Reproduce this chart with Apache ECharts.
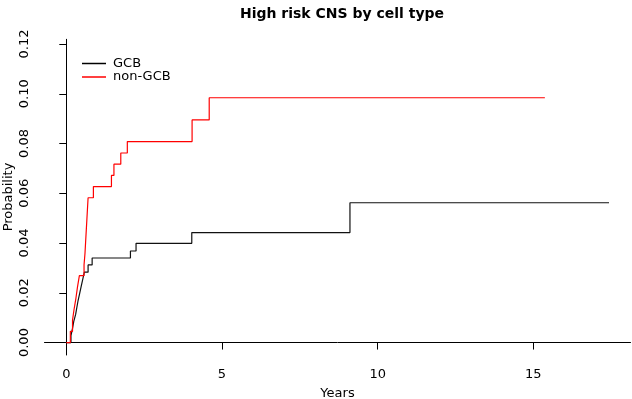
<!DOCTYPE html>
<html>
<head>
<meta charset="utf-8">
<script src="https://cdn.jsdelivr.net/npm/echarts@6/dist/echarts.min.js"></script>
<style>
html, body { margin: 0; padding: 0; background: #fff; }
#chart { width: 632px; height: 399px; }
</style>
</head>
<body>
<div id="chart"></div>
<script>
// step points: [years, cumulative probability]
const gcbTimes = [0, 0.15, 0.2, 0.24, 0.3, 0.34, 0.38, 0.43, 0.48, 0.53, 0.58, 0.7, 0.83, 2.06, 2.24, 4.03, 9.11, 17.43];
const gcbProb = [0, 0.0028, 0.0057, 0.0085, 0.0113, 0.0142, 0.017, 0.0198, 0.0227, 0.0255, 0.0283, 0.0312, 0.034, 0.0368, 0.0399, 0.0442, 0.0562, 0.0562];

const nonGcbTimes = [0, 0.13, 0.2, 0.25, 0.31, 0.36, 0.42, 0.57, 0.6, 0.62, 0.64, 0.66, 0.68, 0.7, 0.87, 1.45, 1.53, 1.75, 1.96, 4.04, 4.59, 15.37];
const nonGcbProb = [0, 0.0045, 0.009, 0.0134, 0.0179, 0.0224, 0.0269, 0.0313, 0.0358, 0.0403, 0.0448, 0.0493, 0.0538, 0.0582, 0.0627, 0.0672, 0.0717, 0.0762, 0.0808, 0.0895, 0.0984, 0.0984];

const xTicks = [0, 5, 10, 15];
const yTicks = [0, 0.02, 0.04, 0.06, 0.08, 0.1, 0.12];

const font = 'DejaVu Sans';

function pairs(xs, ys) {
	return xs.map((x, i) => [x, ys[i]]);
}

const chart = echarts.init(document.getElementById('chart'));

chart.setOption({
	animation: false,
	title: {
		text: 'High risk CNS by cell type',
		left: 337,
		textAlign: 'center',
		top: 2,
		textStyle: { fontFamily: font, fontSize: 14, fontWeight: 'bold', color: '#000' }
	},
	// y axis title, drawn as rotated text
	graphic: [{
		type: 'text',
		x: 9,
		y: 197,
		rotation: Math.PI / 2,
		style: {
			text: 'Probability',
			font: '13px "DejaVu Sans"',
			fill: '#000',
			align: 'center',
			verticalAlign: 'middle'
		}
	}],
	legend: {
		orient: 'vertical',
		left: 77,
		top: 52,
		itemWidth: 24,
		itemHeight: 1.5,
		itemGap: 0.5,
		icon: 'rect',
		textStyle: { fontFamily: font, fontSize: 13, color: '#000', padding: [0, 0, 0, 2] },
		data: ['GCB', 'non-GCB']
	},
	grid: {
		left: 44.5,
		right: 1.5,
		top: 39.3,
		bottom: 44,
		outerBoundsMode: 'none'
	},
	xAxis: {
		type: 'value',
		min: -0.7,
		max: 18.12,
		name: 'Years',
		nameLocation: 'middle',
		nameGap: 32,
		nameTextStyle: { fontFamily: font, fontSize: 13, color: '#000' },
		axisLine: { show: true, lineStyle: { color: '#000', width: 1 } },
		axisTick: { show: true, length: 7, lineStyle: { color: '#000' }, customValues: xTicks },
		axisLabel: {
			fontFamily: font, fontSize: 13, color: '#000', margin: 13,
			customValues: xTicks
		},
		splitLine: { show: false }
	},
	yAxis: {
		type: 'value',
		min: -0.005,
		max: 0.1219,
		axisLine: { show: true, lineStyle: { color: '#000', width: 1 } },
		axisTick: { show: true, length: 7, lineStyle: { color: '#000' }, customValues: yTicks },
		axisLabel: {
			fontFamily: font, fontSize: 13, color: '#000', margin: 13, rotate: 90,
			customValues: yTicks,
			formatter: v => v.toFixed(2)
		},
		splitLine: { show: false }
	},
	series: [
		{
			name: 'GCB',
			type: 'line',
			step: 'end',
			showSymbol: false,
			color: '#000',
			lineStyle: { width: 1.2, color: '#111' },
			data: pairs(gcbTimes, gcbProb)
		},
		{
			name: 'non-GCB',
			type: 'line',
			step: 'end',
			showSymbol: false,
			color: '#ff0000',
			lineStyle: { width: 1.2, color: '#ff0000' },
			data: pairs(nonGcbTimes, nonGcbProb)
		}
	]
});
</script>
</body>
</html>
